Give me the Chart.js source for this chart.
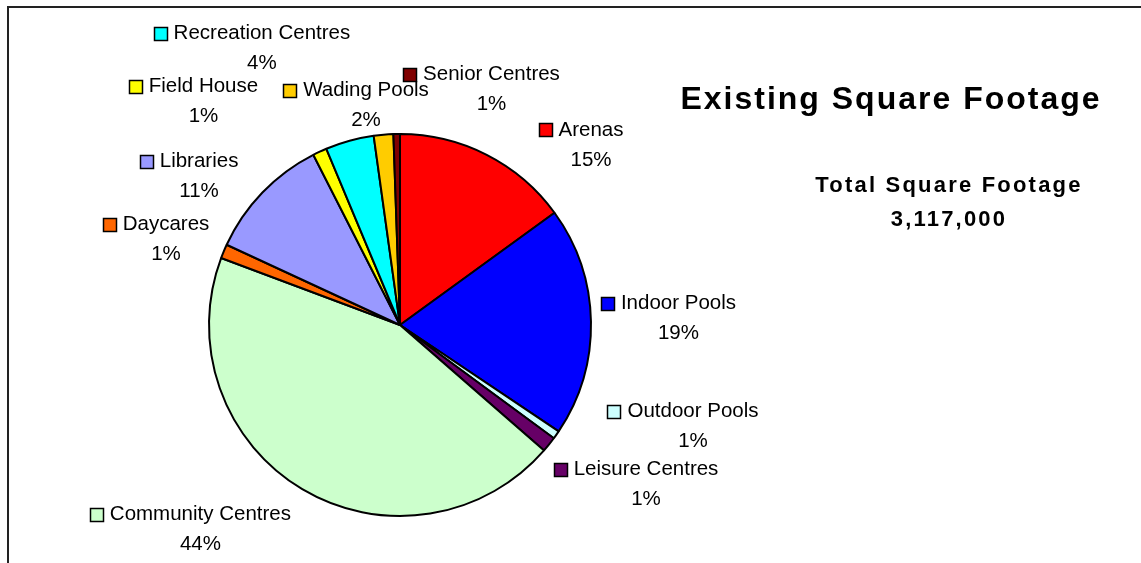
<!DOCTYPE html>
<html>
<head>
<meta charset="utf-8">
<title>Existing Square Footage</title>
<script src="https://cdn.jsdelivr.net/npm/chart.js@4.4.1/dist/chart.umd.min.js"></script>
<style>
  html, body { margin: 0; padding: 0; background: #fff; overflow: hidden; }
  #wrap { position: relative; width: 1141px; height: 563px; }
  #frame {
    position: absolute; left: 7px; top: 6px; width: 1200px; height: 600px;
    border-left: 2px solid #222; border-top: 2px solid #222; pointer-events: none;
  }
</style>
</head>
<body>
<div id="wrap">
  <canvas id="pieChart" width="1141" height="563"></canvas>
  <div id="frame"></div>
</div>
<script>
// facility types, clockwise from 12 o'clock
const categories = ["Arenas", "Indoor Pools", "Outdoor Pools", "Leisure Centres", "Community Centres",
  "Daycares", "Libraries", "Field House", "Recreation Centres", "Wading Pools", "Senior Centres"];
// share of total floor area, percent
const shares = [15.0, 19.4, 0.7, 1.3, 44.3, 1.2, 10.6, 1.2, 4.1, 1.65, 0.55];
const sliceColors = ["#ff0000", "#0000ff", "#ccffff", "#660066", "#ccffcc",
  "#ff6600", "#9999ff", "#ffff00", "#00ffff", "#ffcc00", "#800000"];
const chartTitle = "Existing Square Footage";
const totalLines = ["Total Square Footage", "3,117,000"];

// label anchor (centre of the name line) as an offset from the pie centre, in radii
const labelSpots = [
  [1.000, -1.021], [1.458, -0.113], [1.534, 0.453], [1.288, 0.757], [-1.045, 0.992],
  [-1.225, -0.526], [-1.052, -0.856], [-1.029, -1.249], [-0.723, -1.526], [-0.178, -1.230], [0.479, -1.312]
];

const FONT = "'Liberation Sans', Arial, sans-serif";

const sliceLabels = {
  id: "sliceLabels",
  afterDatasetsDraw(chart) {
    const ctx = chart.ctx;
    const arcs = chart.getDatasetMeta(0).data;
    const total = shares.reduce((a, b) => a + b, 0);
    ctx.save();
    ctx.font = "20.5px " + FONT;
    ctx.textAlign = "center";
    ctx.textBaseline = "middle";
    arcs.forEach((arc, i) => {
      const r = arc.outerRadius;
      const cx = arc.x + labelSpots[i][0] * r;
      const cy = arc.y + labelSpots[i][1] * r;
      const name = categories[i];
      const w = ctx.measureText(name).width;
      // small legend key in front of the name
      const kx = Math.round(cx - w / 2 - 7 - 13) + 0.5;
      const ky = Math.round(cy - 6.5) + 0.5;
      ctx.fillStyle = sliceColors[i];
      ctx.fillRect(kx, ky, 13, 13);
      ctx.strokeStyle = "#000";
      ctx.lineWidth = 1.5;
      ctx.strokeRect(kx, ky, 13, 13);
      ctx.fillStyle = "#000";
      ctx.fillText(name, cx, cy);
      ctx.fillText(Math.round(shares[i] * 100 / total) + "%", cx, cy + 30);
    });
    ctx.restore();
  }
};

const titleBlock = {
  id: "titleBlock",
  afterDraw(chart) {
    const ctx = chart.ctx;
    ctx.save();
    ctx.fillStyle = "#000";
    ctx.textAlign = "center";
    ctx.textBaseline = "middle";
    ctx.font = "bold 32px " + FONT;
    ctx.letterSpacing = "2px";
    ctx.fillText(chartTitle, 891, 100);
    ctx.font = "bold 22px " + FONT;
    ctx.letterSpacing = "2.2px";
    ctx.fillText(totalLines[0], 949, 186);
    ctx.fillText(totalLines[1], 949, 220);
    ctx.restore();
  }
};

new Chart(document.getElementById("pieChart").getContext("2d"), {
  type: "pie",
  data: {
    labels: categories,
    datasets: [{
      data: shares,
      backgroundColor: sliceColors,
      borderColor: "#000",
      borderWidth: 2
    }]
  },
  options: {
    responsive: false,
    animation: false,
    layout: { padding: { left: 208, right: 549, top: 133, bottom: 46 } },
    plugins: {
      legend: { display: false },
      tooltip: { enabled: false }
    }
  },
  plugins: [sliceLabels, titleBlock]
});
</script>
</body>
</html>
